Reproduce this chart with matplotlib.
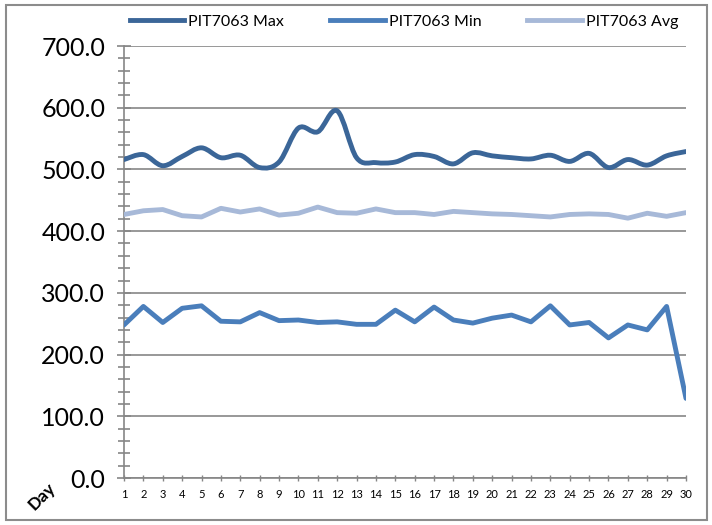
import matplotlib
matplotlib.use("Agg")
import matplotlib.pyplot as plt
from matplotlib.path import Path
from matplotlib.patches import PathPatch, Rectangle
from matplotlib.lines import Line2D
from matplotlib.ticker import MultipleLocator, FormatStrFormatter

days = list(range(1, 31))
pit_max = [516, 524, 506, 521, 535, 519, 523, 503, 512, 567, 561, 595, 519, 511, 512,
           524, 521, 509, 527, 522, 519, 517, 523, 513, 526, 503, 516, 507, 522, 529]
pit_min = [248, 278, 252, 275, 279, 254, 253, 268, 255, 256, 252, 253, 249, 249, 272,
           253, 277, 256, 251, 259, 264, 253, 279, 248, 252, 227, 248, 240, 278, 129]
pit_avg = [427, 433, 435, 425, 423, 437, 431, 436, 426, 429, 439, 430, 429, 436, 430,
           430, 427, 432, 430, 428, 427, 425, 423, 427, 428, 427, 421, 429, 424, 430]
series_names = ["PIT7063 Max", "PIT7063 Min", "PIT7063 Avg"]
x_label = "Day"

c_max = "#3B6698"
c_min = "#4A7EBB"
c_avg = "#A7B9D8"
grid_c = "#868686"
FONT = "Lato"

fig = plt.figure(figsize=(7.12, 5.25), dpi=100)
fig.patch.set_facecolor("white")
fig.add_artist(Rectangle((5.5 / 712, 1 - 520 / 525), 701 / 712, 515 / 525,
                         transform=fig.transFigure, fill=False,
                         edgecolor="#8C8C8C", linewidth=1.5))

ax = fig.add_axes([124 / 712, 1 - 478 / 525, 562 / 712, 432 / 525])
ax.set_xlim(1, 30)
ax.set_ylim(0, 700)


def smooth_path(xs, ys):
    pts = list(zip(xs, ys))
    n = len(pts)
    verts = [pts[0]]
    codes = [Path.MOVETO]
    for i in range(n - 1):
        p0 = pts[i - 1] if i > 0 else pts[i]
        p1 = pts[i]
        p2 = pts[i + 1]
        p3 = pts[i + 2] if i + 2 < n else pts[i + 1]
        c1 = (p1[0] + (p2[0] - p0[0]) / 6, p1[1] + (p2[1] - p0[1]) / 6)
        c2 = (p2[0] - (p3[0] - p1[0]) / 6, p2[1] - (p3[1] - p1[1]) / 6)
        verts += [c1, c2, p2]
        codes += [Path.CURVE4] * 3
    return Path(verts, codes)


lw = 3.5
ax.add_patch(PathPatch(smooth_path(days, pit_max), facecolor="none",
                       edgecolor=c_max, linewidth=lw, capstyle="round",
                       joinstyle="round", zorder=3))
ax.plot(days, pit_min, color=c_min, linewidth=lw, solid_joinstyle="round",
        solid_capstyle="round", zorder=3)
ax.plot(days, pit_avg, color=c_avg, linewidth=lw, solid_joinstyle="round",
        solid_capstyle="round", zorder=3)

# grid
ax.yaxis.set_major_locator(MultipleLocator(100))
ax.yaxis.set_minor_locator(MultipleLocator(20))
ax.yaxis.set_major_formatter(FormatStrFormatter("%.1f"))
ax.set_xticks(days)
ax.set_xticklabels([str(d) for d in days])
ax.grid(axis="y", which="major", color=grid_c, linewidth=1.2, zorder=1)
ax.set_axisbelow(True)

for s in ["top", "right"]:
    ax.spines[s].set_visible(False)
for s in ["left", "bottom"]:
    ax.spines[s].set_color(grid_c)
    ax.spines[s].set_linewidth(1.2)

ax.tick_params(axis="y", which="major", direction="inout", length=10, width=1.2,
               color=grid_c, pad=8.5, labelsize=18)
ax.tick_params(axis="y", which="minor", direction="inout", length=8.6, width=1.2,
               color=grid_c)
ax.tick_params(axis="x", which="major", direction="inout", length=4.5, width=1.0,
               color=grid_c, pad=5.5, labelsize=8)
for lab in ax.get_yticklabels() + ax.get_xticklabels():
    lab.set_fontfamily(FONT)

fig.text(42 / 712, 1 - 496 / 525, x_label, rotation=45, ha="center", va="center",
         fontsize=12.5, fontfamily=FONT, fontweight="bold")

handles = [Line2D([], [], color=c, linewidth=lw) for c in (c_max, c_min, c_avg)]
fig.legend(handles, series_names, loc="center", bbox_to_anchor=(404 / 712, 1 - 22 / 525),
           ncol=3, frameon=False, prop={"family": FONT, "size": 11.5},
           handlelength=3.4, handletextpad=0.25, columnspacing=2.9)

fig.savefig("out.png", dpi=100)
